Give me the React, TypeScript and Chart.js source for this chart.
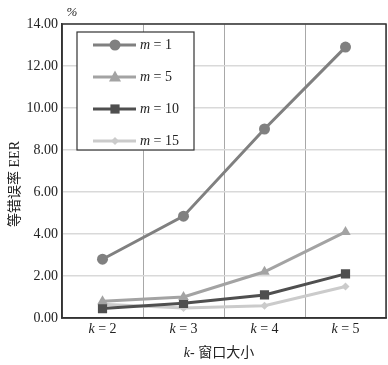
import React, { useEffect, useRef } from 'react';
import Chart from 'chart.js/auto';

const categories = ['2', '3', '4', '5'];
const mLabels = ['1', '5', '10', '15'];
const eerM1 = [2.8, 4.85, 9.0, 12.9];
const eerM5 = [0.8, 1.0, 2.2, 4.1];
const eerM10 = [0.45, 0.7, 1.1, 2.1];
const eerM15 = [0.65, 0.48, 0.58, 1.5];
const yMin = 0;
const yMax = 14;
const yStep = 2;

const SERIF = "'Liberation Serif', 'Noto Sans CJK SC', serif";
const TEXT = '#222222';

const seriesColors = ['#808080', '#a3a3a3', '#4f4f4f', '#cbcbcb'];
const seriesStyles = ['circle', 'triangle', 'rect', 'rectRot'];
const seriesRadius = [5.5, 6, 6.5, 4];
const seriesData = [eerM1, eerM5, eerM10, eerM15];

function drawMixed(ctx: CanvasRenderingContext2D, parts: [string, boolean][], cx: number, cy: number, size: number, align: 'center' | 'left' = 'center') {
  const widths = parts.map(([t, it]) => {
    ctx.font = `${it ? 'italic ' : ''}${size}px ${SERIF}`;
    return ctx.measureText(t).width;
  });
  const total = widths.reduce((a, b) => a + b, 0);
  let x = align === 'center' ? cx - total / 2 : cx;
  ctx.textBaseline = 'middle';
  ctx.textAlign = 'left';
  ctx.fillStyle = TEXT;
  parts.forEach(([t, it], i) => {
    ctx.font = `${it ? 'italic ' : ''}${size}px ${SERIF}`;
    ctx.fillText(t, x, cy);
    x += widths[i];
  });
}

function drawMarker(ctx: CanvasRenderingContext2D, style: string, x: number, y: number, r: number, color: string) {
  ctx.fillStyle = color;
  ctx.beginPath();
  if (style === 'circle') {
    ctx.arc(x, y, r, 0, Math.PI * 2);
  } else if (style === 'triangle') {
    const h = r * 1.5;
    ctx.moveTo(x, y - r * 1.1);
    ctx.lineTo(x + h * 0.58 * 1.15, y + r * 0.75);
    ctx.lineTo(x - h * 0.58 * 1.15, y + r * 0.75);
    ctx.closePath();
  } else if (style === 'rect') {
    const s = r * Math.SQRT2 / 2;
    ctx.rect(x - s, y - s, 2 * s, 2 * s);
  } else {
    ctx.moveTo(x, y - r);
    ctx.lineTo(x + r, y);
    ctx.lineTo(x, y + r);
    ctx.lineTo(x - r, y);
    ctx.closePath();
  }
  ctx.fill();
}

const decorPlugin = {
  id: 'decor',
  beforeDatasetsDraw(chart: any) {
    const { ctx, chartArea } = chart;
    ctx.save();
    ctx.strokeStyle = '#333333';
    ctx.lineWidth = 1.5;
    ctx.strokeRect(chartArea.left, chartArea.top, chartArea.right - chartArea.left, chartArea.bottom - chartArea.top);
    ctx.restore();
  },
  afterDraw(chart: any) {
    const { ctx, chartArea } = chart;
    const xScale = chart.scales.x;
    ctx.save();
    // x tick labels
    categories.forEach((c, i) => {
      drawMixed(ctx, [['k', true], [' = ' + c, false]], xScale.getPixelForValue(i), chartArea.bottom + 11, 14);
    });
    // x title
    drawMixed(ctx, [['k', true], ['- 窗口大小', false]], 219, 353, 14);
    // % unit
    drawMixed(ctx, [['%', true]], 72, 13, 13);
    // y title
    ctx.save();
    ctx.translate(15, 184);
    ctx.rotate(-Math.PI / 2);
    drawMixed(ctx, [['等错误率 EER', false]], 0, 0, 14);
    ctx.restore();

    // legend
    const bx = 77, by = 32, bw = 117, bh = 118;
    ctx.fillStyle = '#ffffff';
    ctx.fillRect(bx, by, bw, bh);
    ctx.strokeStyle = '#333333';
    ctx.lineWidth = 1.2;
    ctx.strokeRect(bx, by, bw, bh);
    const rows = [45, 77, 109, 141];
    mLabels.forEach((m, i) => {
      const y = rows[i];
      ctx.strokeStyle = seriesColors[i];
      ctx.lineWidth = 3;
      ctx.beginPath();
      ctx.moveTo(93, y);
      ctx.lineTo(136, y);
      ctx.stroke();
      drawMarker(ctx, seriesStyles[i], 115, y, seriesRadius[i], seriesColors[i]);
      drawMixed(ctx, [['m', true], [' = ' + m, false]], 140, y, 14, 'left');
    });
    ctx.restore();
  },
};

export default function App() {
  const ref = useRef<HTMLCanvasElement | null>(null);
  useEffect(() => {
    if (!ref.current) return;
    const chart = new Chart(ref.current, {
      type: 'line',
      data: {
        labels: categories.map((c) => 'k = ' + c),
        datasets: seriesData.map((d, i) => ({
          label: 'm = ' + mLabels[i],
          data: d,
          borderColor: seriesColors[i],
          backgroundColor: seriesColors[i],
          borderWidth: 3,
          pointStyle: seriesStyles[i] as any,
          pointRadius: seriesRadius[i],
          pointBorderWidth: 0,
          pointBackgroundColor: seriesColors[i],
          tension: 0,
          fill: false,
        })),
      },
      options: {
        responsive: false,
        animation: false,
        layout: { autoPadding: false, padding: { top: 24, right: 2, left: 0, bottom: 0 } },
        plugins: { legend: { display: false }, tooltip: { enabled: false } },
        scales: {
          x: {
            type: 'category',
            offset: true,
            grid: { offset: true, color: '#a8a8a8', lineWidth: 1, drawTicks: false },
            border: { color: '#333333', width: 1.5 },
            ticks: { display: false },
            afterFit: (s: any) => { s.height = 47; },
          },
          y: {
            min: yMin,
            max: yMax,
            ticks: {
              stepSize: yStep,
              padding: 4,
              color: TEXT,
              font: { family: SERIF, size: 14 },
              callback: (v: any) => Number(v).toFixed(2),
            },
            grid: { color: '#d9d9d9', lineWidth: 1.5, drawTicks: false },
            border: { color: '#333333', width: 1.5 },
            afterFit: (s: any) => { s.width = 62; },
          },
        },
      },
      plugins: [decorPlugin],
    });
    return () => chart.destroy();
  }, []);
  return (
    <div style={{ position: 'fixed', left: 0, top: 0, width: 388, height: 365, background: '#fff' }}>
      <canvas ref={ref} width={388} height={365} style={{ display: 'block' }} />
    </div>
  );
}
